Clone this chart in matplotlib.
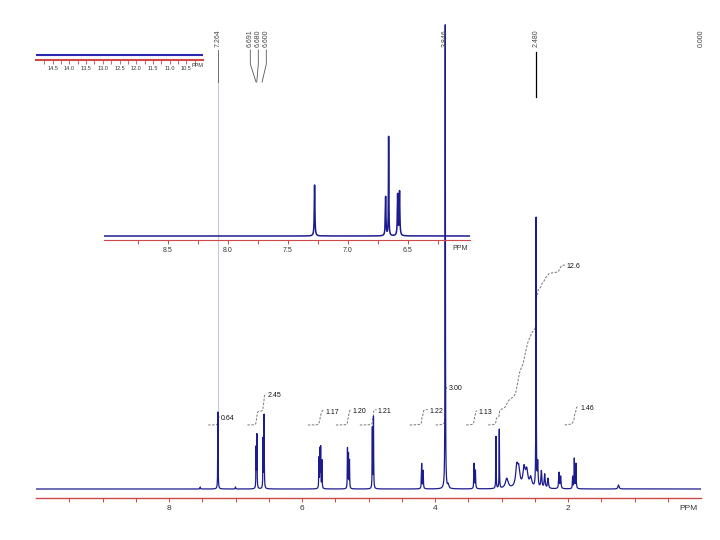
import numpy as np
import matplotlib
matplotlib.use("Agg")
import matplotlib.pyplot as plt

plt.rcParams['font.family'] = ['Liberation Sans', 'DejaVu Sans']

# ---------------- data ----------------
# main 1H spectrum peak list (ppm, height in plot units, half width in ppm)
peak_ppm = [7.53, 7.264, 7.00, 6.690, 6.678, 6.585, 6.570,
            5.745, 5.731, 5.719, 5.700,
            5.316, 5.301, 5.286,
            4.942, 4.925,
            4.200, 4.178,
            3.846, 3.800,
            3.412, 3.392,
            3.083, 3.033,
            2.92, 2.77, 2.74, 2.66, 2.62, 2.56,
            2.480, 2.455, 2.400, 2.350, 2.300,
            2.135, 2.110,
            1.930, 1.905, 1.880,
            1.240]
peak_height = [2, 77, 2, 40, 53, 49, 73,
               30, 38, 40, 28,
               40, 34, 28,
               60, 71,
               25, 18,
               464, 4,
               25, 18,
               52, 59,
               10, 20, 17, 19, 16, 10,
               269, 24, 17, 14, 10,
               16, 12,
               12, 30, 25,
               4]
peak_width = [0.004, 0.003, 0.004, 0.003, 0.003, 0.003, 0.003,
              0.003, 0.003, 0.003, 0.003,
              0.003, 0.003, 0.003,
              0.003, 0.003,
              0.004, 0.004,
              0.003, 0.01,
              0.004, 0.004,
              0.003, 0.003,
              0.025, 0.02, 0.02, 0.02, 0.02, 0.02,
              0.003, 0.006, 0.008, 0.008, 0.008,
              0.006, 0.006,
              0.004, 0.004, 0.004,
              0.01]

# expansion inset (9 - 6 ppm)
inset_ppm = [7.275, 6.683, 6.658, 6.583, 6.567]
inset_height = [51, 39, 99, 41, 44]
inset_width = [0.003, 0.003, 0.002, 0.003, 0.003]

# integrals: region (start ppm, end ppm) and value
integral_start = [7.41, 6.82, 5.91, 5.49, 5.13, 4.38, 3.99, 3.53, 3.20, 2.05]
integral_end = [7.24, 6.54, 5.66, 5.26, 4.88, 4.11, 3.82, 3.37, 2.04, 1.84]
integral_value = [0.64, 2.45, 1.17, 1.20, 1.21, 1.22, 3.00, 1.13, 12.6, 1.46]
integral_label = ['0.64', '2.45', '1.17', '1.20', '1.21', '1.22', '3.00', '1.13', '12.6', '1.46']

# peak-pick labels
pick_ppm = [7.264, 6.691, 6.680, 6.600, 3.846, 2.480, 0.000]
pick_label = ['7.264', '6.691', '6.680', '6.600', '3.846', '2.480', '0.000']

main_tick_labels = ['8', '6', '4', '2']
inset_tick_labels = ['8.5', '8.0', '7.5', '7.0', '6.5']
mini_tick_labels = ['14.5', '14.0', '13.5', '13.0', '12.5', '12.0', '11.5', '11.0', '10.5']

# ---------------- styles ----------------
SPEC = '#1c1c8e'
RED = '#d04848'
W, H = 720, 540


def lorentz_sum(x, ppm, hgt, wid):
    y = np.zeros_like(x)
    for p, a, g in zip(ppm, hgt, wid):
        y += a * g ** 2 / ((x - p) ** 2 + g ** 2)
    return y


fig = plt.figure(figsize=(7.2, 5.4), dpi=100)

# ---------------- main axes ----------------
ax = fig.add_axes([36 / W, (H - 498) / H, (701 - 36) / W, 498 / H])
ax.patch.set_alpha(0)
x = np.linspace(0, 10, 40001)
y = lorentz_sum(x, peak_ppm, peak_height, peak_width)
ax.plot(x, y, color=SPEC, lw=0.9, zorder=3)
ax.set_xlim(10, 0)
ax.set_ylim(-9, 489)
for s in ['top', 'left', 'right']:
    ax.spines[s].set_visible(False)
ax.spines['bottom'].set_color(RED)
ax.spines['bottom'].set_linewidth(1.0)
ax.set_yticks([])
ticks = np.arange(0.5, 10.0, 0.5)
ax.set_xticks(ticks)
lab_vals = [float(t) for t in main_tick_labels]
ax.set_xticklabels([main_tick_labels[lab_vals.index(t)] if t in lab_vals else '' for t in ticks])
ax.tick_params(axis='x', colors=RED, length=3, width=0.7, labelsize=6, labelcolor='#333333', pad=2)
ax.text(0.05, -16, 'PPM', ha='right', va='top', fontsize=6, color='#333333')

# integrals
scale = 12.7
base = 64
for s0, e0, v, lab in zip(integral_start, integral_end, integral_value, integral_label):
    m = (x <= s0) & (x >= e0)
    xs = x[m][::-1]
    ys = y[m][::-1]
    c = np.cumsum(ys)
    c = c / c[-1] * v * scale + base
    ax.plot(xs, c, color='#777777', lw=0.7, ls=(0, (2.5, 1.5)), zorder=2)
    ax.text(e0 - 0.02, c[-1] - 2, lab, fontsize=5, ha='left', va='center', color='#111111')

# peak pick labels
px_per_ppm = (701 - 36) / 10.0
clusters = [[0], [1, 2, 3], [4], [5], [6]]
for cl in clusters:
    n = len(cl)
    center = np.mean([pick_ppm[i] for i in cl])
    for k, i in enumerate(cl):
        tx = center - (k - (n - 1) / 2) * 8 / px_per_ppm * -1 * -1
        tx = center + ((n - 1) / 2 - k) * 8 / px_per_ppm
        ax.text(tx, 489 - 38, pick_label[i], rotation=90, fontsize=5, ha='center', va='center',
                color='#444444', zorder=4)
        if pick_label[i] == '0.000':
            continue
        if pick_label[i] == '2.480':
            ax.plot([tx, tx], [489 - 52, 489 - 97], color='black', lw=0.9, clip_on=False)
            continue
        if pick_label[i] == '3.846':
            continue
        ax.plot([tx, tx, pick_ppm[i]], [489 - 50, 489 - 64, 489 - 82], color='#555555', lw=0.6)
        if n == 1:
            ax.plot([pick_ppm[i], pick_ppm[i]], [489 - 82, 77], color='#c8c8e0', lw=0.8, zorder=1)

# ---------------- expansion inset ----------------
ai = fig.add_axes([104 / W, (H - 240) / H, 366 / W, 140 / H])
ai.patch.set_alpha(0)
xi = np.linspace(5.98, 9.03, 20001)
yi = lorentz_sum(xi, inset_ppm, inset_height, inset_width)
ai.plot(xi, yi, color=SPEC, lw=1.1, zorder=3)
ai.set_xlim(9.03, 5.98)
ai.set_ylim(-4, 136)
for s in ['top', 'left', 'right']:
    ai.spines[s].set_visible(False)
ai.spines['bottom'].set_color(RED)
ai.set_yticks([])
iticks = np.arange(6.25, 9.0, 0.25)
ai.set_xticks(iticks)
ivals = [float(t) for t in inset_tick_labels]
ai.set_xticklabels([inset_tick_labels[ivals.index(round(t, 2))] if round(t, 2) in ivals else '' for t in iticks])
ai.tick_params(axis='x', colors=RED, length=3, width=0.7, labelsize=5, labelcolor='#333333', pad=2)
ai.text(6.0, -9, 'PPM', ha='right', va='top', fontsize=5, color='#333333')

# ---------------- mini inset (15 - 10 ppm) ----------------
am = fig.add_axes([36 / W, (H - 60) / H, 167 / W, 10 / H])
am.patch.set_alpha(0)
xm = np.array([15.0, 10.0])
am.plot(xm, np.zeros_like(xm), color='#2a2ab0', lw=1.5)
am.set_xlim(15, 10)
am.set_ylim(-5, 5)
for s in ['top', 'left', 'right']:
    am.spines[s].set_visible(False)
am.spines['bottom'].set_color(RED)
am.spines['bottom'].set_linewidth(1.5)
am.set_yticks([])
mticks = np.arange(10.25, 15.0, 0.25)
am.set_xticks(mticks)
mvals = [float(t) for t in mini_tick_labels]
am.set_xticklabels([mini_tick_labels[mvals.index(round(t, 2))] if round(t, 2) in mvals else '' for t in mticks])
am.tick_params(axis='x', colors=RED, length=3, width=0.6, labelsize=4, labelcolor='#333333', pad=1)
am.text(10.0, -8, 'PPM', ha='right', va='top', fontsize=4, color='#333333')

fig.savefig('out.png', dpi=100)
